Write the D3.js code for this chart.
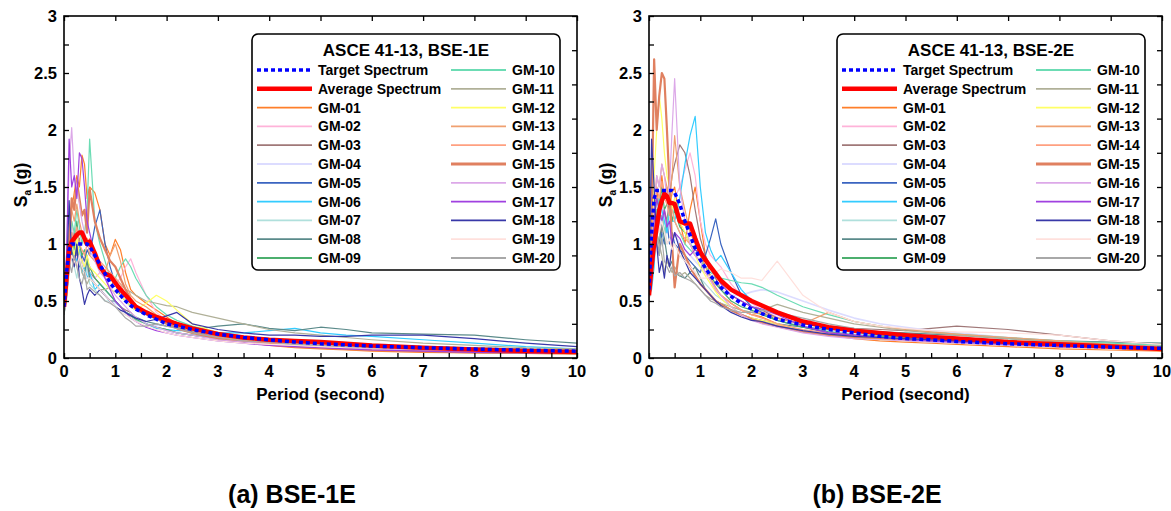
<!DOCTYPE html>
<html>
<head>
<meta charset="utf-8">
<script src="https://cdn.jsdelivr.net/npm/d3@7"></script>
<style>
  body { margin: 0; background: #fff; }
  text { font-family: "Liberation Sans", Arial, sans-serif; font-weight: bold; fill: #000; }
</style>
</head>
<body>
<script>
'use strict'

let width = 1171,
    height = 511

// periods (s) shared by every spectrum
let periods = [0, 0.05, 0.1, 0.15, 0.2, 0.25, 0.3, 0.35, 0.4, 0.45, 0.5, 0.6, 0.7, 0.8, 0.9, 1.0,
    1.1, 1.2, 1.3, 1.4, 1.6, 1.8, 2.0, 2.2, 2.5, 3, 3.5, 4, 4.5, 5, 5.5, 6, 7, 8, 9, 10]

let gmNames = ['GM-01', 'GM-02', 'GM-03', 'GM-04', 'GM-05', 'GM-06', 'GM-07', 'GM-08', 'GM-09', 'GM-10',
    'GM-11', 'GM-12', 'GM-13', 'GM-14', 'GM-15', 'GM-16', 'GM-17', 'GM-18', 'GM-19', 'GM-20']
let gmColors = ['#ff7f2a', '#ffb3d9', '#a07878', '#dcdcff', '#3a64c0', '#33ccff', '#b0e0dc', '#5a8a8a', '#4caf6e', '#6cdcb4',
    '#b0b098', '#ffff66', '#f0a070', '#ffa080', '#e08060', '#dca8e8', '#a040e0', '#3838a8', '#ffe0dc', '#a8a8a8']

let xTicks = [0, 1, 2, 3, 4, 5, 6, 7, 8, 9, 10]
let yTicks = [0, 0.5, 1, 1.5, 2, 2.5, 3]

// BSE-1E
let target1 = [0.45, 0.75, 0.95, 1.0, 1.0, 1.0, 1.0, 1.0, 1.0, 1.0, 0.98, 0.9, 0.82, 0.74, 0.66, 0.6,
    0.55, 0.5, 0.46, 0.43, 0.38, 0.34, 0.3, 0.28, 0.25, 0.21, 0.18, 0.16, 0.14, 0.125, 0.115, 0.105, 0.09, 0.078, 0.068, 0.06]
let average1 = [0.45, 0.7, 0.95, 1.02, 1.05, 1.08, 1.1, 1.1, 1.05, 1.0, 1.02, 0.92, 0.8, 0.74, 0.72, 0.66,
    0.6, 0.55, 0.5, 0.45, 0.4, 0.36, 0.33, 0.3, 0.26, 0.21, 0.18, 0.16, 0.15, 0.14, 0.125, 0.11, 0.09, 0.075, 0.062, 0.052]
let gm1_01 = [0.42, 0.7, 1.1, 1.3, 1.45, 1.6, 1.5, 1.78, 1.7, 1.4, 1.5, 1.45, 1.3, 1.0, 0.9, 1.04, 0.95, 0.75, 0.6, 0.55, 0.48, 0.42, 0.36, 0.3, 0.24, 0.18, 0.14, 0.11, 0.09, 0.08, 0.07, 0.06, 0.05, 0.045, 0.04, 0.035]
let gm1_02 = [0.4, 0.6, 0.9, 1.2, 1.0, 0.85, 0.95, 0.8, 0.9, 0.75, 0.8, 0.7, 0.75, 0.72, 0.6, 0.65, 0.7, 0.8, 0.87, 0.75, 0.55, 0.4, 0.33, 0.28, 0.24, 0.2, 0.17, 0.15, 0.13, 0.12, 0.11, 0.1, 0.08, 0.07, 0.06, 0.05]
let gm1_03 = [0.38, 0.55, 0.8, 0.95, 1.1, 0.9, 1.05, 0.85, 0.8, 0.9, 0.75, 0.7, 0.65, 0.6, 0.55, 0.5, 0.45, 0.42, 0.4, 0.35, 0.3, 0.27, 0.25, 0.22, 0.2, 0.17, 0.15, 0.13, 0.12, 0.11, 0.1, 0.09, 0.075, 0.065, 0.055, 0.05]
let gm1_04 = [0.4, 0.6, 0.85, 1.0, 0.9, 1.1, 0.95, 0.8, 0.85, 0.7, 0.75, 0.65, 0.6, 0.55, 0.5, 0.48, 0.45, 0.4, 0.38, 0.35, 0.3, 0.28, 0.3, 0.28, 0.25, 0.2, 0.17, 0.15, 0.14, 0.13, 0.12, 0.11, 0.1, 0.09, 0.08, 0.07]
let gm1_05 = [0.42, 0.6, 0.8, 0.9, 0.85, 0.95, 0.8, 0.9, 0.85, 0.95, 0.9, 1.15, 1.3, 1.0, 0.8, 0.65, 0.55, 0.5, 0.45, 0.42, 0.38, 0.34, 0.3, 0.27, 0.23, 0.19, 0.16, 0.14, 0.13, 0.12, 0.11, 0.1, 0.09, 0.08, 0.07, 0.06]
let gm1_06 = [0.4, 0.55, 0.8, 1.0, 0.9, 0.85, 0.95, 0.75, 0.8, 0.7, 0.75, 0.6, 0.65, 0.6, 0.55, 0.5, 0.45, 0.4, 0.38, 0.35, 0.3, 0.26, 0.25, 0.24, 0.24, 0.22, 0.22, 0.24, 0.26, 0.22, 0.2, 0.19, 0.16, 0.13, 0.1, 0.08]
let gm1_07 = [0.38, 0.5, 0.75, 0.9, 0.8, 0.7, 0.85, 0.75, 0.7, 0.8, 0.65, 0.6, 0.55, 0.5, 0.5, 0.45, 0.4, 0.38, 0.35, 0.33, 0.3, 0.27, 0.24, 0.22, 0.2, 0.17, 0.15, 0.14, 0.13, 0.12, 0.11, 0.1, 0.09, 0.08, 0.07, 0.06]
let gm1_08 = [0.4, 0.55, 0.8, 0.95, 0.85, 1.0, 0.9, 0.8, 0.75, 0.85, 0.7, 0.65, 0.6, 0.55, 0.5, 0.5, 0.45, 0.4, 0.38, 0.36, 0.32, 0.3, 0.28, 0.27, 0.25, 0.28, 0.3, 0.26, 0.24, 0.27, 0.25, 0.22, 0.21, 0.2, 0.16, 0.13]
let gm1_09 = [0.4, 0.6, 0.85, 1.1, 0.95, 1.2, 1.0, 0.9, 0.95, 0.85, 0.8, 0.7, 0.65, 0.6, 0.55, 0.5, 0.45, 0.4, 0.37, 0.34, 0.3, 0.27, 0.25, 0.22, 0.2, 0.17, 0.15, 0.14, 0.13, 0.12, 0.11, 0.1, 0.09, 0.08, 0.07, 0.06]
let gm1_10 = [0.42, 0.6, 0.9, 1.2, 1.1, 1.3, 1.15, 1.0, 1.1, 1.3, 1.92, 1.2, 1.0, 0.85, 0.7, 0.7, 0.8, 0.87, 0.8, 0.7, 0.55, 0.45, 0.38, 0.33, 0.28, 0.22, 0.18, 0.16, 0.15, 0.14, 0.13, 0.12, 0.1, 0.09, 0.08, 0.07]
let gm1_11 = [0.4, 0.55, 0.8, 0.9, 0.85, 0.8, 0.9, 0.75, 0.7, 0.65, 0.7, 0.65, 0.6, 0.6, 0.62, 0.7, 0.65, 0.6, 0.58, 0.55, 0.5, 0.48, 0.46, 0.45, 0.4, 0.35, 0.3, 0.25, 0.22, 0.2, 0.18, 0.16, 0.13, 0.11, 0.09, 0.08]
let gm1_12 = [0.4, 0.6, 0.85, 1.0, 0.9, 1.05, 0.9, 0.85, 0.8, 0.9, 0.8, 0.75, 0.7, 0.65, 0.6, 0.58, 0.55, 0.5, 0.45, 0.42, 0.48, 0.55, 0.5, 0.42, 0.3, 0.22, 0.18, 0.16, 0.14, 0.13, 0.12, 0.11, 0.09, 0.08, 0.07, 0.06]
let gm1_13 = [0.4, 0.65, 1.0, 1.3, 1.2, 1.35, 1.2, 1.1, 1.0, 1.05, 0.9, 0.85, 0.8, 0.75, 0.9, 1.0, 0.85, 0.65, 0.55, 0.5, 0.45, 0.38, 0.32, 0.28, 0.24, 0.19, 0.16, 0.14, 0.13, 0.12, 0.11, 0.1, 0.08, 0.07, 0.06, 0.05]
let gm1_14 = [0.4, 0.6, 0.9, 1.1, 1.0, 1.15, 1.0, 0.95, 0.9, 1.0, 1.05, 0.9, 0.85, 0.8, 0.75, 0.7, 0.65, 0.55, 0.5, 0.45, 0.4, 0.35, 0.3, 0.26, 0.22, 0.18, 0.15, 0.13, 0.12, 0.11, 0.1, 0.09, 0.08, 0.07, 0.06, 0.05]
let gm1_15 = [0.42, 0.65, 1.0, 1.4, 1.3, 1.55, 1.4, 1.25, 1.3, 1.1, 1.48, 1.2, 1.05, 0.95, 0.85, 0.8, 0.7, 0.6, 0.52, 0.46, 0.4, 0.35, 0.3, 0.26, 0.22, 0.17, 0.14, 0.12, 0.1, 0.09, 0.08, 0.07, 0.06, 0.05, 0.045, 0.04]
let gm1_16 = [0.45, 0.9, 1.7, 2.02, 1.6, 1.5, 1.35, 1.2, 1.1, 1.0, 0.95, 0.85, 0.75, 0.7, 0.62, 0.55, 0.5, 0.45, 0.4, 0.36, 0.3, 0.27, 0.24, 0.22, 0.2, 0.16, 0.14, 0.12, 0.11, 0.1, 0.09, 0.08, 0.07, 0.06, 0.05, 0.045]
let gm1_17 = [0.42, 0.9, 1.92, 1.5, 1.6, 1.4, 1.8, 1.75, 1.5, 1.2, 1.1, 0.9, 0.8, 0.7, 0.6, 0.5, 0.45, 0.4, 0.35, 0.32, 0.27, 0.24, 0.22, 0.2, 0.18, 0.15, 0.13, 0.11, 0.1, 0.09, 0.08, 0.07, 0.06, 0.05, 0.045, 0.04]
let gm1_18 = [0.42, 0.7, 1.38, 0.9, 0.8, 1.0, 0.7, 0.6, 0.47, 0.55, 0.6, 0.55, 0.6, 0.55, 0.5, 0.45, 0.42, 0.4, 0.37, 0.35, 0.32, 0.34, 0.37, 0.4, 0.3, 0.25, 0.22, 0.2, 0.2, 0.19, 0.19, 0.2, 0.2, 0.17, 0.13, 0.1]
let gm1_19 = [0.4, 0.55, 0.8, 0.9, 0.85, 0.8, 0.9, 0.8, 0.75, 0.7, 0.7, 0.65, 0.6, 0.55, 0.5, 0.45, 0.4, 0.38, 0.35, 0.32, 0.28, 0.25, 0.22, 0.2, 0.18, 0.15, 0.13, 0.12, 0.11, 0.1, 0.09, 0.09, 0.08, 0.07, 0.06, 0.055]
let gm1_20 = [0.38, 0.55, 0.85, 0.75, 0.9, 0.8, 0.7, 0.65, 0.75, 0.6, 0.62, 0.58, 0.55, 0.5, 0.48, 0.45, 0.4, 0.35, 0.32, 0.28, 0.28, 0.3, 0.28, 0.26, 0.22, 0.18, 0.15, 0.14, 0.12, 0.11, 0.1, 0.09, 0.08, 0.07, 0.06, 0.05]

// BSE-2E
let target2 = [0.6, 1.1, 1.4, 1.47, 1.47, 1.47, 1.47, 1.47, 1.47, 1.47, 1.45, 1.35, 1.2, 1.08, 0.96, 0.86,
    0.79, 0.72, 0.67, 0.62, 0.54, 0.48, 0.43, 0.39, 0.34, 0.29, 0.25, 0.22, 0.19, 0.17, 0.16, 0.145, 0.125, 0.11, 0.095, 0.085]
let average2 = [0.55, 0.8, 1.0, 1.15, 1.3, 1.38, 1.44, 1.42, 1.36, 1.36, 1.35, 1.2, 1.18, 1.18, 1.05, 0.93,
    0.86, 0.8, 0.74, 0.68, 0.6, 0.55, 0.5, 0.46, 0.4, 0.32, 0.27, 0.24, 0.22, 0.2, 0.185, 0.17, 0.14, 0.12, 0.1, 0.08]
let gm2_01 = [0.55, 0.8, 1.2, 1.5, 1.3, 1.6, 1.4, 1.5, 1.3, 1.45, 1.5, 1.2, 1.0, 1.3, 1.5, 1.2, 0.9, 0.7, 0.6, 0.55, 0.48, 0.42, 0.38, 0.36, 0.3, 0.24, 0.2, 0.17, 0.15, 0.14, 0.13, 0.12, 0.1, 0.08, 0.07, 0.06]
let gm2_02 = [0.5, 0.75, 1.1, 1.3, 1.2, 1.35, 1.25, 1.15, 1.2, 1.3, 1.4, 1.5, 1.65, 1.8, 1.6, 1.2, 1.0, 0.9, 0.85, 0.8, 0.65, 0.55, 0.48, 0.42, 0.36, 0.28, 0.22, 0.19, 0.17, 0.15, 0.14, 0.13, 0.11, 0.1, 0.09, 0.08]
let gm2_03 = [0.55, 0.8, 1.1, 1.3, 1.2, 1.1, 1.3, 1.2, 1.4, 1.6, 1.7, 1.87, 1.8, 1.6, 1.3, 1.05, 0.9, 0.8, 0.7, 0.6, 0.55, 0.5, 0.45, 0.42, 0.35, 0.3, 0.28, 0.26, 0.25, 0.24, 0.26, 0.28, 0.25, 0.2, 0.15, 0.12]
let gm2_04 = [0.5, 0.7, 1.0, 1.2, 1.1, 1.3, 1.2, 1.1, 1.2, 1.0, 1.1, 1.0, 0.95, 0.9, 0.85, 0.8, 0.75, 0.7, 0.65, 0.6, 0.55, 0.55, 0.58, 0.6, 0.58, 0.5, 0.42, 0.35, 0.3, 0.27, 0.24, 0.22, 0.18, 0.15, 0.12, 0.1]
let gm2_05 = [0.55, 0.8, 1.1, 1.0, 0.9, 1.1, 1.0, 1.2, 1.0, 1.1, 1.0, 0.95, 0.9, 0.85, 0.8, 0.75, 0.9, 1.05, 1.22, 1.0, 0.75, 0.55, 0.45, 0.4, 0.33, 0.27, 0.22, 0.2, 0.18, 0.17, 0.16, 0.15, 0.12, 0.1, 0.09, 0.08]
let gm2_06 = [0.55, 0.6, 0.8, 1.2, 1.4, 1.3, 1.2, 1.1, 1.3, 1.2, 1.2, 1.4, 1.7, 1.95, 2.12, 1.5, 1.1, 0.95, 0.85, 0.9, 0.75, 0.6, 0.5, 0.45, 0.4, 0.32, 0.27, 0.23, 0.2, 0.19, 0.17, 0.16, 0.13, 0.11, 0.09, 0.08]
let gm2_07 = [0.5, 0.7, 1.0, 1.2, 1.1, 1.0, 1.15, 1.0, 1.05, 0.95, 1.0, 0.9, 0.85, 0.8, 0.75, 0.7, 0.65, 0.6, 0.55, 0.52, 0.45, 0.42, 0.4, 0.38, 0.33, 0.28, 0.24, 0.21, 0.19, 0.18, 0.17, 0.15, 0.13, 0.11, 0.09, 0.08]
let gm2_08 = [0.5, 0.7, 0.95, 1.1, 1.0, 1.2, 1.05, 0.9, 0.8, 0.85, 0.75, 0.72, 0.7, 0.75, 0.8, 0.7, 0.6, 0.55, 0.5, 0.48, 0.42, 0.38, 0.35, 0.33, 0.3, 0.27, 0.25, 0.24, 0.23, 0.22, 0.21, 0.2, 0.17, 0.15, 0.14, 0.13]
let gm2_09 = [0.55, 0.8, 1.2, 1.4, 1.3, 1.5, 1.3, 1.35, 1.4, 1.2, 1.3, 1.15, 1.1, 1.0, 0.95, 0.9, 0.8, 0.72, 0.65, 0.6, 0.5, 0.45, 0.42, 0.38, 0.33, 0.27, 0.23, 0.2, 0.19, 0.18, 0.17, 0.16, 0.14, 0.12, 0.1, 0.09]
let gm2_10 = [0.55, 0.8, 1.1, 1.3, 1.2, 1.25, 1.1, 1.2, 1.3, 1.35, 1.2, 1.1, 1.0, 0.95, 0.9, 0.85, 0.8, 0.75, 0.72, 0.7, 0.68, 0.66, 0.65, 0.62, 0.55, 0.45, 0.38, 0.32, 0.28, 0.25, 0.23, 0.21, 0.18, 0.15, 0.13, 0.11]
let gm2_11 = [0.5, 0.7, 0.95, 1.1, 1.0, 0.9, 0.75, 0.85, 0.8, 0.75, 0.8, 0.72, 0.75, 0.7, 0.65, 0.6, 0.55, 0.52, 0.5, 0.48, 0.45, 0.42, 0.4, 0.42, 0.47, 0.4, 0.35, 0.3, 0.27, 0.24, 0.22, 0.2, 0.17, 0.14, 0.12, 0.1]
let gm2_12 = [0.55, 0.9, 1.6, 2.0, 2.3, 2.1, 1.8, 1.6, 1.5, 1.3, 1.4, 1.2, 1.1, 1.0, 0.9, 0.8, 0.72, 0.65, 0.58, 0.52, 0.45, 0.38, 0.35, 0.33, 0.3, 0.24, 0.2, 0.18, 0.16, 0.15, 0.14, 0.13, 0.11, 0.1, 0.08, 0.07]
let gm2_13 = [0.55, 0.85, 1.3, 1.6, 1.5, 1.7, 1.6, 1.5, 1.4, 1.6, 1.95, 1.5, 1.3, 1.1, 1.0, 0.9, 0.8, 0.7, 0.62, 0.55, 0.48, 0.42, 0.38, 0.4, 0.35, 0.3, 0.4, 0.32, 0.28, 0.25, 0.23, 0.21, 0.18, 0.15, 0.12, 0.1]
let gm2_14 = [0.5, 0.8, 1.2, 1.5, 1.4, 1.55, 1.4, 1.35, 1.25, 1.3, 1.2, 1.1, 1.05, 1.0, 0.9, 0.85, 0.75, 0.68, 0.6, 0.55, 0.48, 0.42, 0.38, 0.35, 0.3, 0.25, 0.22, 0.2, 0.18, 0.17, 0.16, 0.15, 0.13, 0.11, 0.1, 0.09]
let gm2_15 = [0.55, 1.2, 2.62, 2.0, 2.3, 2.5, 2.45, 2.0, 1.5, 1.0, 0.62, 1.0, 0.9, 0.8, 0.72, 0.65, 0.6, 0.55, 0.5, 0.47, 0.42, 0.38, 0.34, 0.31, 0.28, 0.23, 0.2, 0.18, 0.17, 0.16, 0.15, 0.14, 0.12, 0.1, 0.09, 0.08]
let gm2_16 = [0.5, 0.8, 1.3, 1.6, 1.5, 1.7, 1.6, 1.4, 1.5, 2.0, 2.45, 1.5, 1.2, 1.0, 0.9, 0.85, 0.75, 0.68, 0.6, 0.55, 0.45, 0.38, 0.33, 0.3, 0.27, 0.22, 0.19, 0.17, 0.16, 0.15, 0.14, 0.13, 0.11, 0.1, 0.08, 0.07]
let gm2_17 = [0.55, 0.8, 1.2, 1.4, 1.3, 1.2, 1.3, 1.15, 1.2, 1.0, 1.1, 1.05, 0.95, 0.9, 0.95, 0.92, 0.85, 0.8, 0.75, 0.65, 0.55, 0.5, 0.45, 0.43, 0.38, 0.28, 0.22, 0.2, 0.18, 0.16, 0.15, 0.14, 0.12, 0.1, 0.09, 0.08]
let gm2_18 = [0.6, 1.92, 1.5, 1.0, 0.75, 0.85, 0.7, 0.9, 0.8, 1.0, 1.1, 0.95, 0.85, 0.75, 0.7, 0.65, 0.6, 0.55, 0.5, 0.46, 0.4, 0.36, 0.33, 0.32, 0.28, 0.24, 0.21, 0.19, 0.18, 0.17, 0.16, 0.15, 0.13, 0.11, 0.1, 0.09]
let gm2_19 = [0.5, 0.7, 1.0, 1.2, 1.1, 1.2, 1.1, 1.0, 1.05, 0.95, 1.0, 0.9, 0.85, 0.8, 0.75, 0.7, 0.7, 0.72, 0.75, 0.78, 0.75, 0.7, 0.7, 0.68, 0.85, 0.55, 0.4, 0.32, 0.28, 0.26, 0.24, 0.23, 0.22, 0.2, 0.15, 0.12]
let gm2_20 = [0.5, 0.75, 1.0, 1.1, 0.9, 1.05, 0.85, 0.8, 0.75, 0.8, 0.72, 0.75, 0.7, 0.68, 0.65, 0.6, 0.55, 0.5, 0.48, 0.45, 0.42, 0.4, 0.4, 0.42, 0.4, 0.35, 0.3, 0.26, 0.23, 0.21, 0.19, 0.18, 0.15, 0.13, 0.11, 0.1]

let records1 = [gm1_01, gm1_02, gm1_03, gm1_04, gm1_05, gm1_06, gm1_07, gm1_08, gm1_09, gm1_10,
    gm1_11, gm1_12, gm1_13, gm1_14, gm1_15, gm1_16, gm1_17, gm1_18, gm1_19, gm1_20]
let records2 = [gm2_01, gm2_02, gm2_03, gm2_04, gm2_05, gm2_06, gm2_07, gm2_08, gm2_09, gm2_10,
    gm2_11, gm2_12, gm2_13, gm2_14, gm2_15, gm2_16, gm2_17, gm2_18, gm2_19, gm2_20]

let svg = d3.select('body').append('svg')
    .attr('width', width)
    .attr('height', height)

function gmWidth(i) {
    if (i === 14) return 2.2
    if (i === 3) return 1.6
    return 1.2
}

function drawPanel(left, title, caption, records, target, average) {
    let plotW = 513,
        top = 16,
        bottom = 358

    let x = d3.scaleLinear().domain([0, 10]).range([left, left + plotW])
    let y = d3.scaleLinear().domain([0, 3]).range([bottom, top])

    let g = svg.append('g')

    let clip = 'clip' + left
    svg.append('clipPath').attr('id', clip)
        .append('rect')
        .attr('x', left).attr('y', top)
        .attr('width', plotW).attr('height', bottom - top)

    let line = d3.line()
        .x((d, i) => x(periods[i]))
        .y(d => y(d))

    let curves = g.append('g').attr('clip-path', 'url(#' + clip + ')')

    records.forEach((rec, i) => {
        curves.append('path')
            .attr('d', line(rec))
            .attr('fill', 'none')
            .attr('stroke', gmColors[i])
            .attr('stroke-width', gmWidth(i))
            .attr('stroke-linejoin', 'round')
    })

    curves.append('path')
        .attr('d', line(average))
        .attr('fill', 'none')
        .attr('stroke', '#ff0000')
        .attr('stroke-width', 4.5)
        .attr('stroke-linejoin', 'round')

    curves.append('path')
        .attr('d', line(target))
        .attr('fill', 'none')
        .attr('stroke', '#0000ff')
        .attr('stroke-width', 3.5)
        .attr('stroke-dasharray', '4,3')

    // ticks, all pointing inward
    let tickLen = 5
    g.append('g')
        .attr('transform', 'translate(0,' + bottom + ')')
        .call(d3.axisBottom(x).tickValues(d3.range(0, 10.01, 0.5)).tickSize(-tickLen).tickFormat(''))
    g.append('g')
        .attr('transform', 'translate(0,' + top + ')')
        .call(d3.axisTop(x).tickValues(xTicks).tickSize(-tickLen).tickFormat(''))
    g.append('g')
        .attr('transform', 'translate(' + left + ',0)')
        .call(d3.axisLeft(y).tickValues(d3.range(0, 3.01, 0.25)).tickSize(-tickLen).tickFormat(''))
    let y2 = d3.scaleLinear().domain([0, 1]).range([bottom, top])
    g.append('g')
        .attr('transform', 'translate(' + (left + plotW) + ',0)')
        .call(d3.axisRight(y2).ticks(10).tickSize(-tickLen).tickFormat(''))
    g.selectAll('.domain').remove()
    g.selectAll('.tick line').attr('stroke', '#000').attr('stroke-width', 1.3)

    g.append('rect')
        .attr('x', left).attr('y', top)
        .attr('width', plotW).attr('height', bottom - top)
        .attr('fill', 'none')
        .attr('stroke', '#000')
        .attr('stroke-width', 1.6)

    // tick labels
    g.selectAll('.xl').data(xTicks).enter()
        .append('text')
        .attr('x', d => x(d))
        .attr('y', bottom + 19)
        .attr('text-anchor', 'middle')
        .style('font-size', '16.5px')
        .text(d => d)
    g.selectAll('.yl').data(yTicks).enter()
        .append('text')
        .attr('x', left - 7)
        .attr('y', d => y(d) + 6)
        .attr('text-anchor', 'end')
        .style('font-size', '16.5px')
        .text(d => d)

    g.append('text')
        .attr('x', left + plotW / 2)
        .attr('y', bottom + 42)
        .attr('text-anchor', 'middle')
        .style('font-size', '17px')
        .text('Period (second)')

    let yl = g.append('text')
        .attr('transform', 'translate(' + (left - 37) + ',' + ((top + bottom) / 2 - 2) + ') rotate(-90)')
        .attr('text-anchor', 'middle')
        .style('font-size', '17.5px')
    yl.append('tspan').text('S')
    yl.append('tspan').attr('dy', 4).style('font-size', '10px').text('a')
    yl.append('tspan').attr('dy', -4).text(' (g)')

    // legend
    let lx = left + 188,
        ly = 34
    let leg = g.append('g')
    leg.append('rect')
        .attr('x', lx).attr('y', ly)
        .attr('width', 308).attr('height', 236)
        .attr('rx', 6)
        .attr('fill', '#fff')
        .attr('stroke', '#000')
        .attr('stroke-width', 1.6)
    leg.append('text')
        .attr('x', lx + 154)
        .attr('y', ly + 22)
        .attr('text-anchor', 'middle')
        .style('font-size', '17px')
        .text(title)

    let entries = [{name: 'Target Spectrum', color: '#0000ff', w: 3.5, dash: '4,3'},
        {name: 'Average Spectrum', color: '#ff0000', w: 4.5, dash: null}]
    gmNames.forEach((n, i) => entries.push({name: n, color: gmColors[i], w: gmWidth(i) + 0.6, dash: null}))

    entries.forEach((e, i) => {
        let col = i < 11 ? 0 : 1,
            row = i % 11,
            x0 = lx + (col === 0 ? 5 : 199),
            yy = ly + 36 + row * 18.8
        leg.append('line')
            .attr('x1', x0).attr('x2', x0 + 55)
            .attr('y1', yy).attr('y2', yy)
            .attr('stroke', e.color)
            .attr('stroke-width', e.w)
            .attr('stroke-dasharray', e.dash)
        leg.append('text')
            .attr('x', x0 + 61)
            .attr('y', yy + 5)
            .style('font-size', '14px')
            .text(e.name)
    })

    svg.append('text')
        .attr('x', left + 228)
        .attr('y', 503)
        .attr('text-anchor', 'middle')
        .style('font-size', '25px')
        .text(caption)
}

drawPanel(64, 'ASCE 41-13, BSE-1E', '(a) BSE-1E', records1, target1, average1)
drawPanel(649, 'ASCE 41-13, BSE-2E', '(b) BSE-2E', records2, target2, average2)
</script>
</body>
</html>
